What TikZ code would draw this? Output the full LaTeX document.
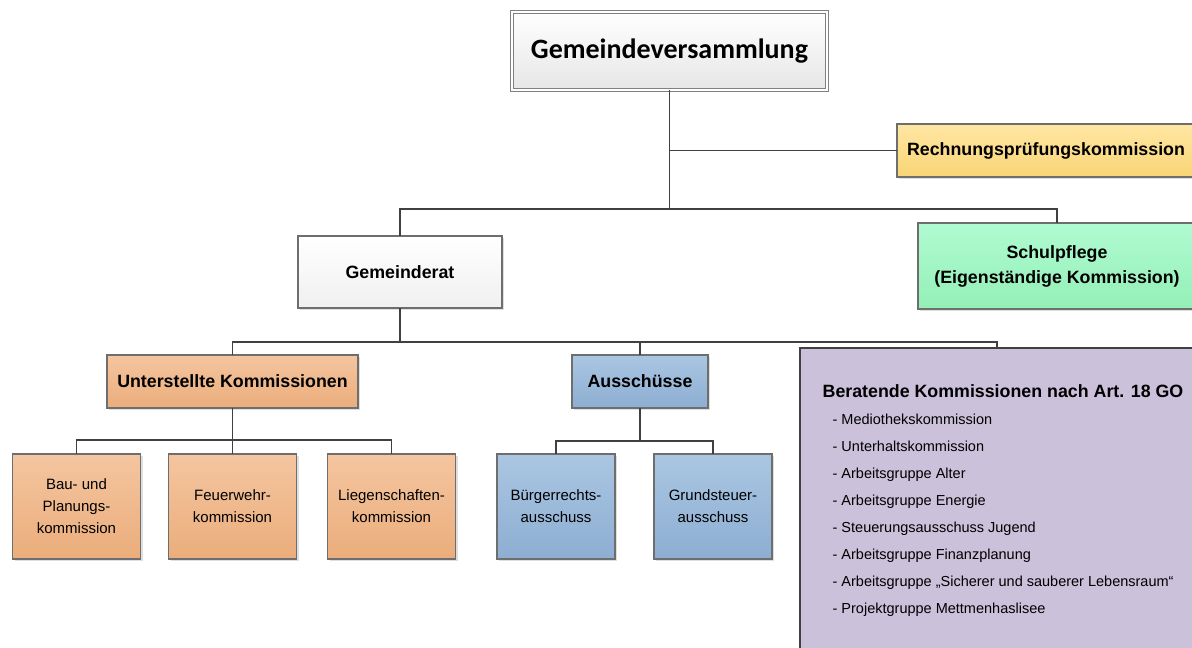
\documentclass[tikz,border=0pt]{standalone}
\usepackage{fontspec}
\setmainfont{Liberation Sans}
\newfontfamily\titlefont{Carlito}
\usepackage{tikz}
\usetikzlibrary{positioning, shadows, calc}
\definecolor{boxgray}{HTML}{6E6E6E}
\definecolor{linegray}{HTML}{404040}
\definecolor{gvtop}{HTML}{FFFFFF}
\definecolor{gvbot}{HTML}{E6E6E6}
\definecolor{yeltop}{HTML}{FFE7A3}
\definecolor{yelbot}{HTML}{F8D475}
\definecolor{grntop}{HTML}{B0FBD2}
\definecolor{grnbot}{HTML}{94EFB6}
\definecolor{orgtop}{HTML}{F4C5A0}
\definecolor{orgbot}{HTML}{EBAD7B}
\definecolor{blutop}{HTML}{AAC6E2}
\definecolor{blubot}{HTML}{8DAED2}
\definecolor{lila}{HTML}{CCC1DA}
\newcommand{\listline}[1]{\hspace*{10pt}- #1}
\tikzset{%
	box/.style={draw=boxgray, line width=1.2pt, rectangle, inner sep=0pt, outer sep=0pt, align=center,%
		drop shadow={shadow xshift=2pt, shadow yshift=-2pt, opacity=0.25}},
	headbox/.style={box, font=\bfseries\fontsize{17.8}{25}\selectfont},
	subbox/.style={box, font=\fontsize{15}{22}\selectfont, minimum height=105pt},
	gvbox/.style={box, draw=gray, double=white, double distance=2.5pt, line width=1pt,%
		top color=gvtop, bottom color=gvbot, font=\titlefont\bfseries\fontsize{28}{32}\selectfont},
	plain/.style={top color=white, bottom color=gvbot!60},
	yel/.style={top color=yeltop, bottom color=yelbot},
	grn/.style={top color=grntop, bottom color=grnbot},
	org/.style={top color=orgtop, bottom color=orgbot},
	blu/.style={top color=blutop, bottom color=blubot},
	conn/.style={draw=linegray, line width=1.5pt}
}
\begin{document}
\begin{tikzpicture}[x=1pt, y=-1pt]
	\useasboundingbox (0,0) rectangle (1192,648);

	\node[gvbox, minimum width=315pt, minimum height=78pt] (gv) at (669.5,51) {Gemeindeversammlung};
	\node[headbox, yel, minimum width=298pt, minimum height=53pt] (rpk) [below right=34pt and 70pt of gv] {Rechnungsprüfungskommission};
	\node[headbox, plain, minimum width=204pt, minimum height=72pt] (gr) [below left=146pt and 10pt of gv] {Gemeinderat};
	\node[headbox, grn, minimum width=278pt, minimum height=86pt] (sp) [below right=133pt and 91pt of gv] {Schulpflege\\(Eigenständige Kommission)};

	\node[headbox, org, minimum width=251pt, minimum height=53pt] (uk) [below=47pt of gr, xshift=-167.5pt] {Unterstellte Kommissionen};
	\node[headbox, blu, minimum width=136pt, minimum height=53pt] (aus) [below=47pt of gr, xshift=240pt] {Ausschüsse};
	\node[box, fill=lila, draw=linegray, line width=1.5pt, minimum width=394pt, minimum height=312pt] (berat) [below=40pt of gr, xshift=597pt] {};
	\node[align=left, font=\fontsize{14.5}{27}\selectfont] (berat-txt) at ([xshift=6pt, yshift=3pt]berat.center) {%
		{\bfseries\fontsize{17.8}{27}\selectfont Beratende Kommissionen nach Art. 18 GO}\\
		\listline{Mediothekskommission}\\
		\listline{Unterhaltskommission}\\
		\listline{Arbeitsgruppe Alter}\\
		\listline{Arbeitsgruppe Energie}\\
		\listline{Steuerungsausschuss Jugend}\\
		\listline{Arbeitsgruppe Finanzplanung}\\
		\listline{Arbeitsgruppe „Sicherer und sauberer Lebensraum“}\\
		\listline{Projektgruppe Mettmenhaslisee}};

	\node[subbox, org, minimum width=128pt] (fw) [below=46pt of uk] {Feuerwehr-\\kommission};
	\node[subbox, org, minimum width=128pt] (bau) [left=28pt of fw] {Bau- und\\Planungs-\\kommission};
	\node[subbox, org, minimum width=128pt] (lieg) [right=31pt of fw] {Liegenschaften-\\kommission};
	\node[subbox, blu, minimum width=118pt] (bg) [below=46pt of aus, xshift=-84pt] {Bürgerrechts-\\ausschuss};
	\node[subbox, blu, minimum width=118pt] (gs) [right=39pt of bg] {Grundsteuer-\\ausschuss};

	\coordinate (gv-bus) at ([yshift=-119pt]gv.south);
	\coordinate (gr-bus) at ([yshift=-34pt]gr.south);
	\coordinate (uk-bus) at ([yshift=-32pt]uk.south);
	\coordinate (aus-bus) at ([yshift=-33pt]aus.south);

	\draw [conn] (gv.south) -- (gv-bus);
	\draw [conn] (gv.south |- rpk.west) -- (rpk.west);
	\draw [conn] (gr.north) |- (gv-bus) -| (sp.north);

	\draw [conn] (gr.south) -- (gr-bus);
	\draw [conn] (uk.north) |- (gr-bus) -| (berat.north);
	\draw [conn] (aus.north) -- (aus.north |- gr-bus);

	\draw [conn] (uk.south) -- (uk-bus);
	\draw [conn] (bau.north) |- (uk-bus) -| (lieg.north);
	\draw [conn] (fw.north) -- (uk-bus);

	\draw [conn] (aus.south) -- (aus-bus);
	\draw [conn] (bg.north) |- (aus-bus) -| (gs.north);
\end{tikzpicture}
\end{document}
